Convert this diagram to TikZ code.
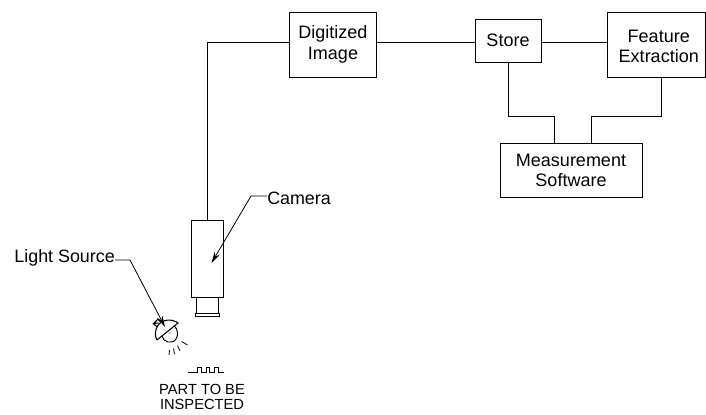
\documentclass[tikz,border=0pt]{standalone}
\usepackage{fontspec}
\setmainfont{Liberation Sans}
\usetikzlibrary{arrows.meta,positioning,calc}

\tikzset{
  blockbox/.style={draw,line width=0.7pt,align=center,inner sep=0pt,font=\fontsize{13.5}{15.4}\selectfont},
  wire/.style={line width=0.7pt},
  leader/.style={line width=0.6pt,-{Stealth[length=8.5pt,width=4.5pt]}},
  calloutlabel/.style={font=\fontsize{13.4}{15}\selectfont,inner sep=0pt},
  partlabel/.style={align=center,inner sep=0pt,font=\fontsize{11}{11.3}\selectfont},
}

\begin{document}
\begin{tikzpicture}[x=0.75pt,y=-0.75pt]
  \useasboundingbox (0,0) rectangle (706,414);

  % Processing blocks
  \node[blockbox,minimum width=65.25pt,minimum height=48.75pt] (digitized) at (333,44.5) {Digitized\\Image};
  \node[blockbox,minimum width=49.5pt,minimum height=32.6pt] (store) at (508,40.75) {Store};
  \node[blockbox,minimum width=73.9pt,minimum height=48.75pt] (feature) at (656.25,44.5) {};
  \node[align=center,inner sep=0pt,font=\fontsize{13.5}{15.4}\selectfont] (featuretext) at (658.75,46.5) {Feature\\Extraction};
  \node[blockbox,minimum width=106.5pt,minimum height=40.8pt] (measure) at (571,170.5) {Measurement\\Software};

  % Camera
  \node[draw,line width=0.7pt,minimum width=24.4pt,minimum height=57.75pt,inner sep=0pt] (camera) at (207.25,258.5) {};
  \node[draw,line width=0.7pt,minimum width=16.1pt,minimum height=12pt,inner sep=0pt] (neck) at (207.25,305) {};
  \node[draw,line width=0.7pt,minimum width=18.4pt,minimum height=2.2pt,inner sep=0pt] (flange) at (207.25,314.5) {};

  % Points where the wires meet the blocks
  \coordinate (digL) at (289.5,42.5);
  \coordinate (digR) at (376.5,42.5);
  \coordinate (stoL) at (475,42.5);
  \coordinate (stoR) at (541,42.5);
  \coordinate (feaL) at (607.5,42.5);
  \coordinate (feaB) at (661.5,77);
  \coordinate (meaL) at (554.5,143);
  \coordinate (meaR) at (591.5,143);

  % Wires
  \draw[wire] (camera.north) |- (digL);
  \draw[wire] (digR) -- (stoL);
  \draw[wire] (stoR) -- (feaL);
  \draw[wire] (store.south) |- (510,116.5) -| (meaL);
  \draw[wire] (feaB) |- (600,116.5) -| (meaR);

  % Callouts
  \node[calloutlabel,anchor=west] (camlabel) at (267,198) {Camera};
  \node[calloutlabel,anchor=east] (lightlabel) at (115,258) {Light Source};
  \coordinate (camtip) at (211.5,263);
  \coordinate (lighttip) at (165,327);
  \draw[leader] (camlabel.west) ++(0,-2) -- (251,196) -- (camtip);
  \draw[leader] (lightlabel.east) ++(0,2) -- (130,260) -- (lighttip);

  % Lamp
  \draw[line width=0.8pt] (157,340) -- (178,323) .. controls (172,318.5) and (162,319) .. (157.5,326) .. controls (155,330.5) and (154.5,336) .. (157,340);
  \draw[line width=0.8pt] (158.5,323) -- (153.5,323.5) -- (158,319) -- (160,321.5);
  \draw[line width=0.8pt] (153.5,323.5) -- (157,327);
  \draw[line width=0.7pt] (162,336) .. controls (163,342) and (172,345) .. (176,339) .. controls (178.5,335) and (178,330) .. (174.5,326);
  \fill (170,333) circle (0.4pt);
  \foreach \xa/\ya/\xb/\yb in {169/355/169.5/350, 174.5/354/173.5/348.5, 180/351/177.5/345.5, 187.5/345/181.5/341.5} {
    \draw[line width=0.6pt] (\xa,\ya) -- (\xb,\yb);
  }

  % Part
  \draw[line width=0.7pt] (188,372.5) -- (197,372.5) -- (197,367.5) -- (201,367.5) -- (201,372.5) -- (206,372.5) -- (206,367.5) -- (209.5,367.5) -- (209.5,372.5) -- (214.5,372.5) -- (214.5,367.5) -- (218,367.5) -- (218,372.5) -- (224,372.5);
  \node[partlabel] (partlabel) at (202,397) {PART TO BE\\INSPECTED};
\end{tikzpicture}
\end{document}
